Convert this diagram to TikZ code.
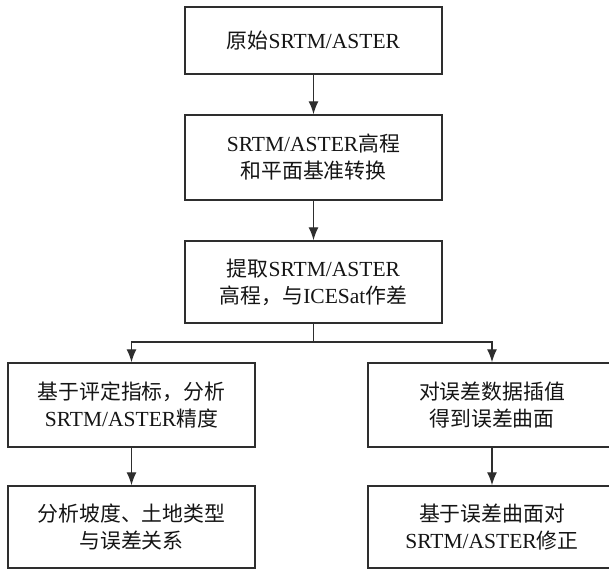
\documentclass[tikz,border=0pt]{standalone}
\usepackage{fontspec}
\setmainfont{Liberation Serif}
\newfontfamily\cjk{Noto Sans CJK SC}[Scale=0.97]
\usetikzlibrary{arrows.meta}
\definecolor{linec}{HTML}{2E2E2E}
\definecolor{textc}{HTML}{151515}
\begin{document}
\begin{tikzpicture}[x=1pt,y=-1pt,
  box/.style={draw=linec, line width=1.5pt, inner sep=0pt, align=center,
    text=textc, font=\fontsize{21.5}{27}\selectfont},
  arr/.style={draw=linec, line width=1.4pt, -{Latex[length=13pt,width=10pt]}},
  ln/.style={draw=linec, line width=1.4pt}]
\useasboundingbox (0,0) rectangle (609,570);
\fill[white] (0,0) rectangle (609,570);
\node[box, minimum width=257pt, minimum height=67pt] (b1) at (313.5,40.5) {{\cjk 原始}SRTM/ASTER};
\node[box, minimum width=257pt, minimum height=85pt] (b2) at (313.5,157.5) {SRTM/ASTER{\cjk 高程}\\{\cjk 和平面基准转换}};
\node[box, minimum width=257pt, minimum height=82pt] (b3) at (313.5,282) {{\cjk 提取}SRTM/ASTER\\{\cjk 高程，与}ICESat{\cjk 作差}};
\node[box, minimum width=247pt, minimum height=84pt] (b4) at (131.5,405) {{\cjk 基于评定指标，分析}\\SRTM/ASTER{\cjk 精度}};
\node[box, minimum width=248pt, minimum height=84pt] (b5) at (492,405) {{\cjk 对误差数据插值}\\{\cjk 得到误差曲面}};
\node[box, minimum width=247pt, minimum height=82pt] (b6) at (131.5,527) {{\cjk 分析坡度、土地类型}\\{\cjk 与误差关系}};
\node[box, minimum width=248pt, minimum height=82pt] (b7) at (492,527) {{\cjk 基于误差曲面对}\\SRTM/ASTER{\cjk 修正}};
\draw[arr] (b1) -- (b2);
\draw[arr] (b2) -- (b3);
\coordinate (split) at (313.5,342);
\draw[ln] (b3.south) -- (split);
\draw[arr] (split) -| (b4.north);
\draw[arr] (split) -| (b5.north);
\draw[arr] (b4) -- (b6);
\draw[arr] (b5) -- (b7);
\end{tikzpicture}
\end{document}
